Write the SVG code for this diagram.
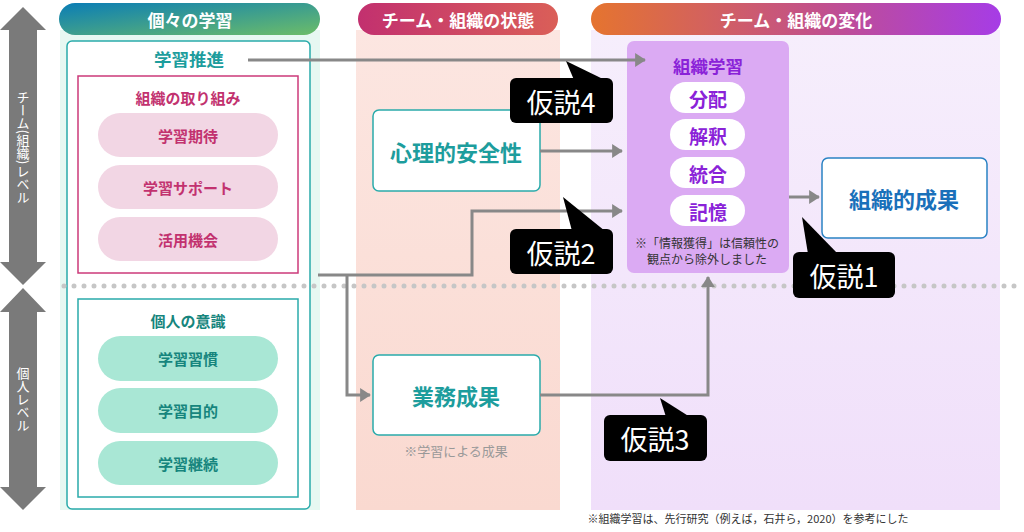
<svg xmlns="http://www.w3.org/2000/svg" width="1024" height="532" viewBox="0 0 1024 532">
<defs>
<linearGradient id="g1" x1="0" y1="0" x2="1" y2="1"><stop offset="0" stop-color="#0a7db6"/><stop offset="1" stop-color="#6dbd68"/></linearGradient>
<linearGradient id="g2" x1="0" y1="0" x2="1" y2="0"><stop offset="0" stop-color="#c2306f"/><stop offset="1" stop-color="#da5f58"/></linearGradient>
<linearGradient id="g3" x1="0" y1="0" x2="1" y2="0"><stop offset="0" stop-color="#e5742f"/><stop offset="0.55" stop-color="#c2508a"/><stop offset="1" stop-color="#a63ce6"/></linearGradient>
<linearGradient id="bg2" x1="0" y1="0" x2="0" y2="1"><stop offset="0" stop-color="#fce6e1"/><stop offset="1" stop-color="#fad9d0"/></linearGradient>
<linearGradient id="bg3" x1="0" y1="0" x2="0" y2="1"><stop offset="0" stop-color="#f6eefc"/><stop offset="1" stop-color="#f0dffa"/></linearGradient>
<marker id="ah" markerWidth="3.6" markerHeight="4.6" refX="3.3" refY="2.3" orient="auto" markerUnits="strokeWidth"><path d="M0,0 L3.6,2.3 L0,4.6 Z" fill="#888"/></marker>
</defs>
<style>
text{font-family:"Noto Sans CJK JP","Noto Sans",sans-serif;text-anchor:middle;dominant-baseline:central}
.hd{fill:#fff;font-size:17px;font-weight:bold}
.b{font-weight:bold}
.pk{fill:#f2d6e4}
.pkt{fill:#c2326f;font-size:15px;font-weight:bold}
.mn{fill:#a9e7d5}
.mnt{fill:#16857d;font-size:15px;font-weight:bold}
.wp{fill:#fff}
.pt{fill:#8a22d8;font-size:19px;font-weight:bold}
.tb{fill:#fff;stroke:#2aabab;stroke-width:1.5}
.con{fill:none;stroke:#888;stroke-width:3}
.bub{fill:#000}
.bt{fill:#fff;font-size:27px}
.vt{fill:#fff;font-size:13px;writing-mode:vertical-rl;text-orientation:mixed}
</style>

<g id="level-arrows">
<polygon points="23,7 46,30 37,30 37,262 46,262 23,285 0,262 9,262 9,30 0,30" fill="#7a7a7a"/>
<polygon points="23,288 46,312 37,312 37,487 46,487 23,510 0,487 9,487 9,312 0,312" fill="#7a7a7a"/>
<text class="vt" x="23" y="147">チーム(組織)レベル</text>
<text class="vt" x="23" y="399">個人レベル</text>
</g>

<g id="col-individual">
<rect x="60" y="30" width="260" height="480" fill="#e7f8f2"/>
<rect x="59" y="3" width="261" height="32" rx="16" fill="url(#g1)"/>
<text class="hd" x="190" y="19">個々の学習</text>
</g>
<g id="col-state">
<rect x="356" y="30" width="204" height="480" fill="url(#bg2)"/>
<rect x="358" y="3" width="200" height="32" rx="16" fill="url(#g2)"/>
<text class="hd" x="458" y="19">チーム・組織の状態</text>
</g>
<g id="col-change">
<rect x="591" y="30" width="409" height="480" fill="url(#bg3)"/>
<rect x="591" y="3" width="410" height="32" rx="16" fill="url(#g3)"/>
<text class="hd" x="796" y="19">チーム・組織の変化</text>
</g>

<g id="learning-promotion">
<rect class="tb" x="67" y="41" width="243" height="468" rx="5"/>
<text x="189" y="58" class="b" fill="#1d9d9d" font-size="17.5">学習推進</text>
</g>
<g id="org-efforts">
<rect x="78" y="76" width="220" height="197" fill="#fff" stroke="#cc3a7a" stroke-width="1.5"/>
<text class="pkt" x="188" y="97">組織の取り組み</text>
<rect class="pk" x="98" y="113" width="180" height="44" rx="22"/><text class="pkt" x="188" y="135">学習期待</text>
<rect class="pk" x="98" y="165" width="180" height="44" rx="22"/><text class="pkt" x="188" y="187">学習サポート</text>
<rect class="pk" x="98" y="217" width="180" height="44" rx="22"/><text class="pkt" x="188" y="239">活用機会</text>
</g>
<g id="personal-awareness">
<rect x="78" y="299" width="220" height="198" fill="#fff" stroke="#2aabab" stroke-width="1.5"/>
<text class="mnt" x="188" y="320">個人の意識</text>
<rect class="mn" x="98" y="336" width="180" height="45" rx="22.5"/><text class="mnt" x="188" y="358">学習習慣</text>
<rect class="mn" x="98" y="388" width="180" height="45" rx="22.5"/><text class="mnt" x="188" y="410">学習目的</text>
<rect class="mn" x="98" y="441" width="180" height="44" rx="22"/><text class="mnt" x="188" y="463">学習継続</text>
</g>

<g id="psych-safety">
<rect class="tb" x="373" y="110" width="167" height="81" rx="6"/>
<text x="456" y="151" class="b" fill="#1d9d9d" font-size="22">心理的安全性</text>
</g>
<g id="work-results">
<rect class="tb" x="373" y="355" width="167" height="80" rx="6"/>
<text x="456" y="395" class="b" fill="#1d9d9d" font-size="22">業務成果</text>
<text x="456" y="450" fill="#999" font-size="13">※学習による成果</text>
</g>

<g id="org-learning">
<rect x="627" y="41" width="162" height="232" rx="7" fill="#dbaaf3"/>
<text x="708" y="65" class="b" fill="#8a22d8" font-size="17.5">組織学習</text>
<rect class="wp" x="670" y="82" width="75" height="31" rx="15.5"/><text class="pt" x="708" y="98">分配</text>
<rect class="wp" x="670" y="119" width="75" height="31" rx="15.5"/><text class="pt" x="708" y="135">解釈</text>
<rect class="wp" x="670" y="157" width="75" height="31" rx="15.5"/><text class="pt" x="708" y="173">統合</text>
<rect class="wp" x="670" y="195" width="75" height="31" rx="15.5"/><text class="pt" x="708" y="211">記憶</text>
<text x="707" y="242" fill="#333" font-size="12">※「情報獲得」は信頼性の</text>
<text x="707" y="258" fill="#333" font-size="12">観点から除外しました</text>
</g>
<g id="org-results">
<rect x="822" y="158" width="165" height="80" rx="6" fill="#fff" stroke="#2a82c4" stroke-width="1.5"/>
<text x="904" y="198" class="b" fill="#1a70ba" font-size="22">組織的成果</text>
</g>

<line id="level-divider" x1="64" y1="286" x2="1020" y2="286" stroke="#c6c6c6" stroke-width="5" stroke-linecap="round" stroke-dasharray="0 10"/>

<g id="connectors">
<path class="con" d="M248,60 H645" marker-end="url(#ah)"/>
<path class="con" d="M540,151 H622" marker-end="url(#ah)"/>
<path class="con" d="M318,275 H472 V211 H622" marker-end="url(#ah)"/>
<path class="con" d="M347,275 V395 H370" marker-end="url(#ah)"/>
<path class="con" d="M540,395 H708 V277" marker-end="url(#ah)"/>
<path class="con" d="M789,197 H819" marker-end="url(#ah)"/>
</g>

<g id="h4"><rect class="bub" x="510" y="78" width="103" height="45" rx="6"/><polygon class="bub" points="566,61 605,80 574,80"/><text class="bt" x="561" y="101">仮説4</text></g>
<g id="h2"><rect class="bub" x="510" y="229" width="103" height="45" rx="6"/><polygon class="bub" points="563,197 605,231 572,231"/><text class="bt" x="561" y="252">仮説2</text></g>
<g id="h1"><rect class="bub" x="793" y="252" width="102" height="46" rx="6"/><polygon class="bub" points="802,217 838,254 808,254"/><text class="bt" x="844" y="275">仮説1</text></g>
<g id="h3"><rect class="bub" x="604" y="415" width="103" height="46" rx="6"/><polygon class="bub" points="660,398 690,417 666,417"/><text class="bt" x="655" y="438">仮説3</text></g>

<text x="748" y="518" fill="#333" font-size="11">※組織学習は、先行研究（例えば，石井ら，2020）を参考にした</text>
</svg>
